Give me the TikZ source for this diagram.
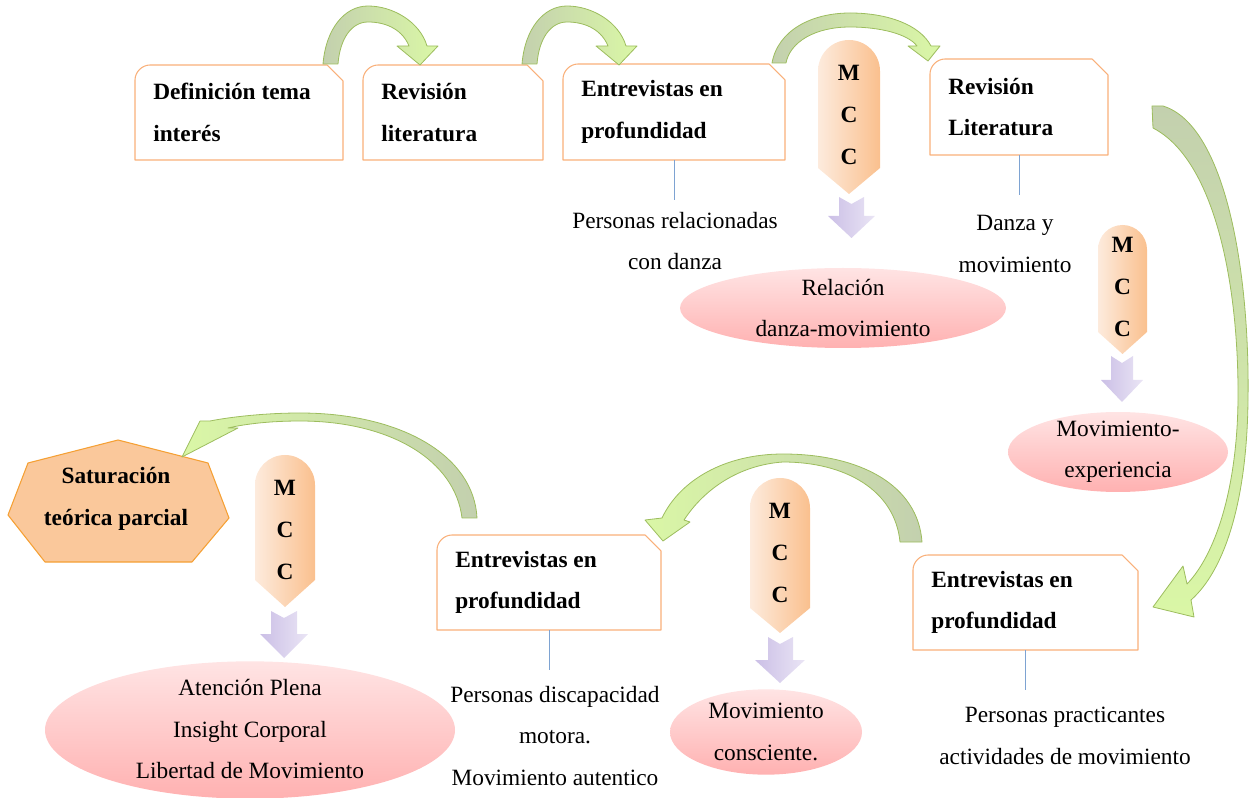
\documentclass[tikz,border=0pt]{standalone}
\usepackage{fontspec}
\setmainfont{Liberation Serif}
\usetikzlibrary{calc,shapes.geometric}

\definecolor{frameorange}{HTML}{F9B07A}
\definecolor{leaderblue}{HTML}{7EA3D2}
\definecolor{arrowrim}{HTML}{9DBD5E}
\definecolor{arrowtail}{HTML}{C3D0AE}
\definecolor{arrowhead}{HTML}{DAF7A6}
\definecolor{mccleft}{HTML}{FDEBDD}
\definecolor{mccright}{HTML}{FAC08E}
\definecolor{lilacleft}{HTML}{CBBFE6}
\definecolor{lilacright}{HTML}{EAE5F5}
\definecolor{pinktop}{HTML}{FFE4E4}
\definecolor{pinkbottom}{HTML}{FFB1B1}
\definecolor{satfill}{HTML}{FAC89B}
\definecolor{satrim}{HTML}{F5A034}

% stage box: rounded top-left corner, snipped top-right corner
\newcommand\stagebox[6]{%
  \node[stageframe, minimum width={(#4-#2)*0.75pt}, minimum height={(#5-#3)*0.75pt}] (#1) at ({(#2+#4)/2},{(#3+#5)/2}) {};
  \path[stageline] ($(#1.north west)+(15,0)$) -- ($(#1.north east)+(-16,0)$) -- ($(#1.north east)+(0,16)$)
     -- (#1.south east) -- (#1.south west) -- ($(#1.north west)+(0,15)$)
     .. controls ($(#1.north west)+(0,7)$) and ($(#1.north west)+(7,0)$) .. ($(#1.north west)+(15,0)$) -- cycle;
  \node[stagetext, anchor=west] (#1-text) at ($(#1.west)+(18,0)$) {#6};
}

% coding step: round-topped chevron holding M C C
\newcommand\mccarrow[7]{%
  \pgfmathsetmacro\mccxc{(#2+#3)/2}%
  \pgfmathsetmacro\mccr{(#3-#2)/2}%
  \pgfmathsetmacro\mcck{0.552*\mccr}%
  \path[mccbody] (#2,#5) -- (#2,{#4+\mccr}) .. controls (#2,{#4+\mccr-\mcck}) and ({\mccxc-\mcck},#4) .. (\mccxc,#4)
     .. controls ({\mccxc+\mcck},#4) and (#3,{#4+\mccr-\mcck}) .. (#3,{#4+\mccr}) -- (#3,#5) -- (\mccxc,#6) -- cycle;
  \node[mcctext] (#1) at (\mccxc,#7) {M\\C\\C};
}

% short downward block arrow with a notched top
\newcommand\lilacarrow[7]{%
  \path[lilac] (#3,#5) -- ({(#1+#2)/2},{#5+7}) -- (#4,#5) -- (#4,#6) -- (#2,#6)
     -- ({(#1+#2)/2},#7) -- (#1,#6) -- (#3,#6) -- cycle;
}

\begin{document}
\begin{tikzpicture}[x=0.75pt,y=-0.75pt,
  stageframe/.style={rectangle, inner sep=0pt, outer sep=0pt},
  stageline/.style={draw=frameorange, line width=0.8pt, fill=white, line join=round},
  stagetext/.style={inner sep=0pt, align=left, font=\fontsize{17.5}{31}\selectfont\bfseries},
  notetext/.style={inner sep=0pt, align=center, font=\fontsize{17.5}{31}\selectfont},
  leader/.style={draw=leaderblue, line width=0.7pt},
  flowarrow/.style={draw=arrowrim, line width=0.6pt, line join=round},
  mccbody/.style={left color=mccleft, right color=mccright},
  mcctext/.style={inner sep=0pt, align=center, font=\fontsize{17.5}{31.5}\selectfont\bfseries},
  lilac/.style={left color=lilacleft, right color=lilacright},
  resultblob/.style={ellipse, inner sep=0pt, outer sep=0pt, top color=pinktop, bottom color=pinkbottom, draw=none},
  satshape/.style={fill=satfill, draw=satrim, line width=0.8pt, line join=round}
]
\useasboundingbox (0,0) rectangle (1250,798);

% ---------- stages ----------
\stagebox{def}{135}{65}{343}{160}{Definición tema\\interés}
\stagebox{rev}{363}{65}{543}{160}{Revisión\\literatura}
\stagebox{ent}{563}{64}{785}{160}{Entrevistas en\\profundidad}
\stagebox{revb}{930}{59}{1108}{155}{Revisión\\Literatura}
\stagebox{entc}{437}{535}{661}{630}{Entrevistas en\\profundidad}
\stagebox{entb}{913}{555}{1138}{650}{Entrevistas en\\profundidad}

% ---------- notes under stages ----------
\node[notetext] (ent-note) at (675,241) {Personas relacionadas\\con danza};
\node[notetext] (revb-note) at (1015,244) {Danza y\\movimiento};
\node[notetext] (entc-note) at (555,736) {Personas discapacidad\\motora.\\Movimiento autentico};
\node[notetext] (entb-note) at (1065,736) {Personas practicantes\\actividades de movimiento};

\draw[leader, shorten >=9pt] (ent.south) -- (ent.south |- ent-note.north);
\draw[leader, shorten >=15pt] (revb.south) -- (revb.south |- revb-note.north);
\draw[leader, shorten >=12pt] (entc.south) -- (entc.south |- entc-note.north);
\draw[leader, shorten >=13pt] (entb.south) -- (entb.south |- entb-note.north);

% ---------- results ----------
\node[resultblob, minimum width=244.5pt, minimum height=60pt] (rel) at (843,308) {};
\node[notetext] (rel-text) at (rel.center) {Relación\\danza-movimiento};
\node[resultblob, minimum width=165pt, minimum height=60pt] (exp) at (1118,452) {};
\node[notetext] (exp-text) at (exp.center) {Movimiento-\\experiencia};
\node[resultblob, minimum width=144pt, minimum height=64pt] (cons) at (766,732) {};
\node[notetext] (cons-text) at (cons.center) {Movimiento\\consciente.};
\node[resultblob, minimum width=307.5pt, minimum height=103pt] (plena) at (250,730) {};
\node[notetext] (plena-text) at (250,729) {Atención Plena\\Insight Corporal\\Libertad de Movimiento};

% ---------- coding steps ----------
\mccarrow{mccA}{818}{880}{40}{168}{194}{115}
\lilacarrow{828}{875}{839}{864}{197}{216}{238}
\mccarrow{mccB}{1098}{1147}{225}{332}{354}{287}
\lilacarrow{1101}{1143}{1111}{1133}{356}{380}{402}
\mccarrow{mccC}{750}{810}{478}{608}{633}{553}
\lilacarrow{755}{805}{768}{793}{637}{660}{683}
\mccarrow{mccD}{255}{315}{455}{580}{607}{530}
\lilacarrow{260}{308}{271}{297}{611}{634}{658}

% ---------- partial saturation ----------
\path[satshape] (118,440) -- (208,463) -- (229,518) -- (192,562) -- (45,562) -- (8,515) -- (28,463) -- cycle;
\node[stagetext, align=center] (sat) at (116,499) {Saturación\\teórica parcial};

% ---------- curved flow arrows ----------
\path[flowarrow, left color=arrowtail, right color=arrowhead]
  (323,64) .. controls (326,28) and (345,6) .. (368,6) .. controls (393,6) and (420,22) .. (427,46)
  -- (438,46) -- (420,65) -- (397,46) -- (409,46)
  .. controls (403,31) and (388,22) .. (368,22) .. controls (352,22) and (340,38) .. (338,64) -- cycle;
\path[flowarrow, left color=arrowtail, right color=arrowhead]
  (522,64) .. controls (525,28) and (544,6) .. (567,6) .. controls (592,6) and (619,22) .. (626,46)
  -- (637,46) -- (619,65) -- (596,46) -- (608,46)
  .. controls (602,31) and (587,22) .. (567,22) .. controls (551,22) and (539,38) .. (537,64) -- cycle;
\path[flowarrow, left color=arrowtail, right color=arrowhead]
  (772,63) .. controls (778,30) and (812,13) .. (850,13) .. controls (888,13) and (920,25) .. (931,46)
  -- (940,46) -- (928,61) -- (908,46) -- (917,46)
  .. controls (908,34) and (880,27) .. (850,27) .. controls (815,27) and (790,42) .. (786,63) -- cycle;
\path[flowarrow, top color=arrowtail, bottom color=arrowhead]
  (1152,106) -- (1163,106) .. controls (1225,125) and (1250,270) .. (1248,400)
  .. controls (1247,500) and (1225,570) .. (1191,600) -- (1194,617) -- (1153,607) -- (1183,566) -- (1187,584)
  .. controls (1215,555) and (1237,490) .. (1238,400) .. controls (1239,285) and (1215,160) .. (1153,128) -- cycle;
\path[flowarrow, left color=arrowhead, right color=arrowtail]
  (922,542) .. controls (918,485) and (860,454) .. (783,454) .. controls (725,454) and (680,480) .. (662,518)
  -- (645,520) -- (663,541) -- (690,522) -- (684,520)
  .. controls (705,488) and (740,465) .. (783,462) .. controls (845,462) and (895,490) .. (900,542) -- cycle;
\path[flowarrow, left color=arrowhead, right color=arrowtail]
  (477,518) .. controls (474,455) and (400,413) .. (300,413) .. controls (265,413) and (230,417) .. (210,421)
  -- (200,421) -- (182,457) -- (238,428) -- (228,428)
  .. controls (245,424) and (270,421) .. (300,421) .. controls (390,421) and (455,460) .. (462,518) -- cycle;
\end{tikzpicture}
\end{document}
